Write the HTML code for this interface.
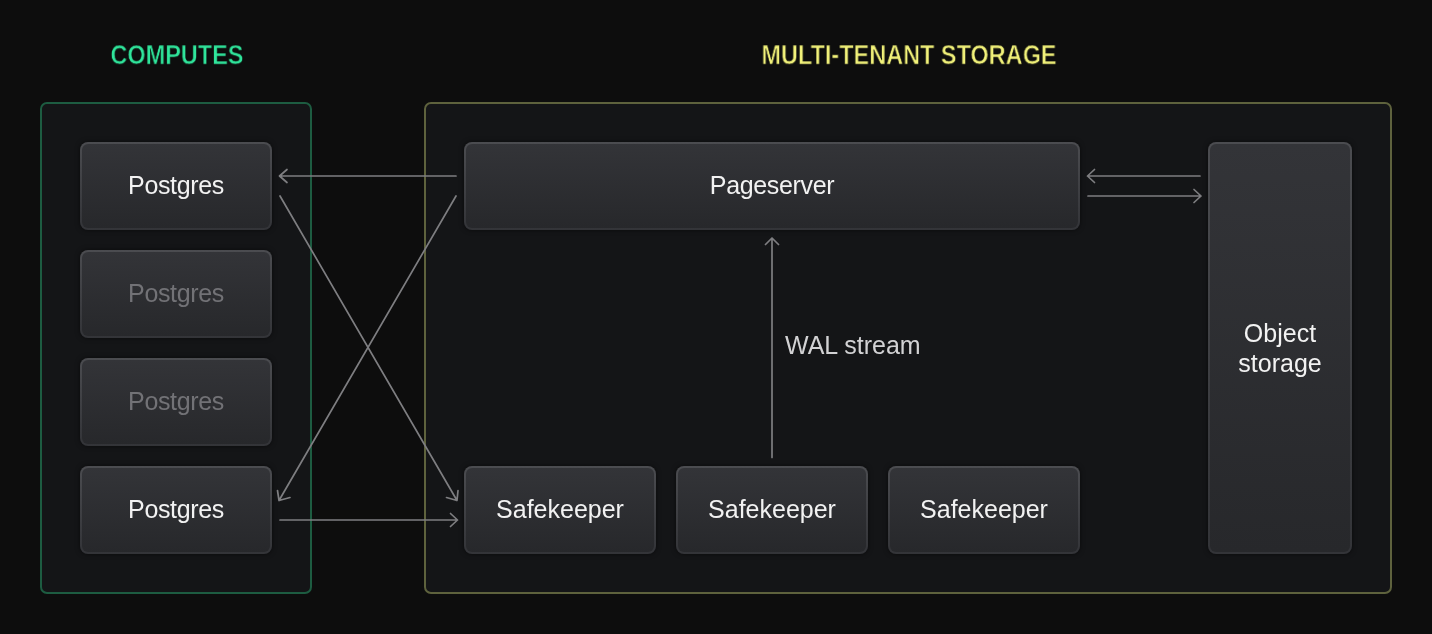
<!DOCTYPE html>
<html>
<head>
<meta charset="utf-8">
<style>
html,body{margin:0;padding:0;}
body{width:1432px;height:634px;background:#0d0d0d;position:relative;overflow:hidden;font-family:"Liberation Sans",sans-serif;}
.title{position:absolute;font-size:26px;font-weight:bold;white-space:nowrap;line-height:26px;width:500px;text-align:center;transform:scale(0.903,1.055);-webkit-text-stroke:0.55px #0d0d0d;will-change:transform;transform-origin:50% 50%;}
.cont{position:absolute;box-sizing:border-box;border-radius:7px;background:#141517;}
.box{position:absolute;box-sizing:border-box;border-radius:8px;background:linear-gradient(180deg,#333438 0%,#27282b 100%) padding-box,linear-gradient(180deg,#4b4c50 0%,#333438 100%) border-box;border:2px solid transparent;box-shadow:0 0 5px rgba(0,0,0,0.55);color:#f2f2f2;font-size:25px;display:flex;align-items:center;justify-content:center;text-align:center;line-height:30px;}
.ls{letter-spacing:-0.35px;}
.sm{padding-bottom:2px;}
.box,.wal{will-change:transform;}
.dim{color:#727276;}
svg{position:absolute;left:0;top:0;}
</style>
</head>
<body>
<div class="title" style="left:-73px;top:42px;color:#30e69c;">COMPUTES</div>
<div class="title" style="left:659px;top:42px;color:#f2f27a;">MULTI-TENANT STORAGE</div>

<div class="cont" style="left:40px;top:102px;width:272px;height:492px;border:2px solid #1d5c41;"></div>
<div class="cont" style="left:424px;top:102px;width:968px;height:492px;border:2px solid #5e623d;"></div>

<div class="box sm" style="left:80px;top:142px;width:192px;height:88px;"><span class="ls">Postgres</span></div>
<div class="box sm dim" style="left:80px;top:250px;width:192px;height:88px;"><span class="ls">Postgres</span></div>
<div class="box sm dim" style="left:80px;top:358px;width:192px;height:88px;"><span class="ls">Postgres</span></div>
<div class="box sm" style="left:80px;top:466px;width:192px;height:88px;"><span class="ls">Postgres</span></div>

<div class="box sm" style="left:464px;top:142px;width:616px;height:88px;"><span class="ls">Pageserver</span></div>
<div class="box sm" style="left:464px;top:466px;width:192px;height:88px;">Safekeeper</div>
<div class="box sm" style="left:676px;top:466px;width:192px;height:88px;">Safekeeper</div>
<div class="box sm" style="left:888px;top:466px;width:192px;height:88px;">Safekeeper</div>
<div class="box" style="left:1208px;top:142px;width:144px;height:412px;">Object<br>storage</div>

<div class="wal" style="position:absolute;left:785px;top:330px;font-size:25px;color:#d2d2d4;white-space:nowrap;line-height:30px;">WAL stream</div>

<svg width="1432" height="634" viewBox="0 0 1432 634">
<g stroke="#7e7e81" stroke-width="1.7" fill="none" stroke-linecap="round" stroke-linejoin="round">
  <path d="M456 176 L279.5 176 M287 169.5 L279.5 176 L287 182.5"/>
  <path d="M280 196 L457 500.5 M458 490.5 L457 500.5 L446.5 497.5"/>
  <path d="M456 196 L279 500.5 M277.5 490.5 L279 500.5 L290 497.5"/>
  <path d="M280 520 L457.5 520 M450.5 513.5 L457.5 520 L450.5 526.5"/>
  <path d="M772 457.5 L772 238 M765.5 244.5 L772 238 L778.5 244.5"/>
  <path d="M1200 176 L1087.5 176 M1094.5 169.5 L1087.5 176 L1094.5 182.5"/>
  <path d="M1088 196 L1201 196 M1194 189.5 L1201 196 L1194 202.5"/>
</g>
</svg>
</body>
</html>
